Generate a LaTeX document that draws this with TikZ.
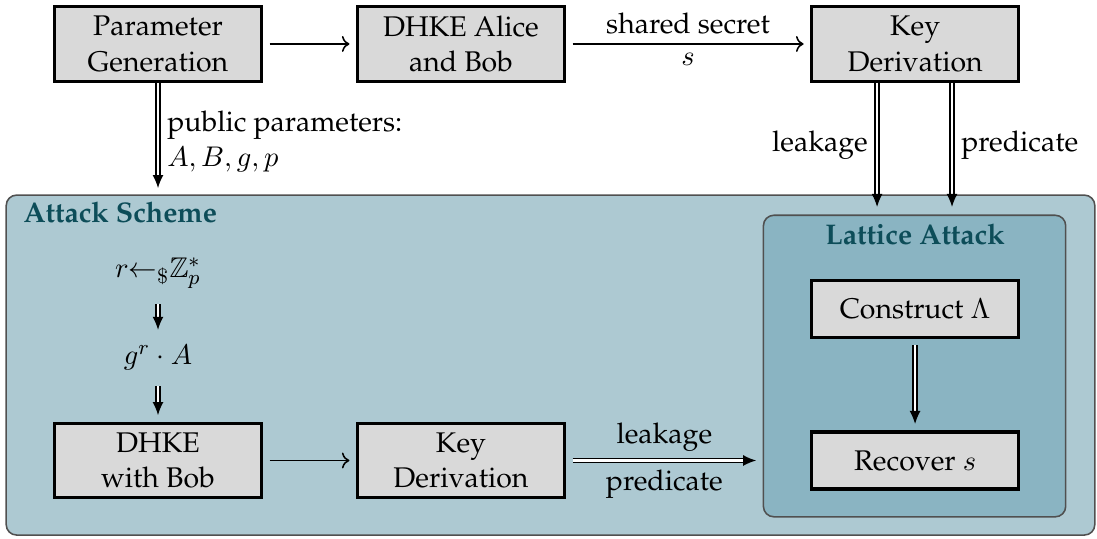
\documentclass[tikz,border=0pt]{standalone}
\usepackage[T1]{fontenc}
\usepackage{palatino}
\usepackage{amsmath}
\usepackage{amssymb}
\usetikzlibrary{arrows.meta}
\definecolor{schemeblue}{RGB}{173,201,210}
\definecolor{latticeblue}{RGB}{138,180,194}
\definecolor{titleteal}{RGB}{13,77,89}
\definecolor{frameline}{RGB}{80,80,80}

\begin{document}
\begin{tikzpicture}[
    font=\fontsize{10.95}{13.6}\selectfont,
    stepbox/.style={draw, line width=1.2pt, fill=black!15, align=center, minimum width=2.8cm, minimum height=1.01cm},
    flow/.style={->, line width=0.6pt, shorten <=2.5pt, shorten >=2.5pt},
    dflow/.style={double, double distance=1pt, line width=0.5pt, -{Latex[length=5pt,width=4.2pt]}, shorten <=2.5pt, shorten >=2.5pt},
    framebox/.style={draw=frameline, line width=0.6pt, rounded corners=4pt}
  ]
  \useasboundingbox (0,0) rectangle (14.844,-7.28);
  % attack scheme frames
  \node[framebox, fill=schemeblue, minimum width=14.73cm, minimum height=4.6cm] (scheme) at (7.449,-4.94) {};
  \node[framebox, fill=latticeblue, minimum width=4.09cm, minimum height=4.08cm] (lattice) at (12.375,-4.953) {};
  \node[anchor=west, inner sep=0pt, font=\fontsize{10.95}{13.6}\selectfont\bfseries, text=titleteal] (schemetitle) at (0.311,-2.869) {Attack Scheme};
  \node[inner sep=0pt, font=\fontsize{10.95}{13.6}\selectfont\bfseries, text=titleteal] (latticetitle) at (12.382,-3.17) {Lattice Attack};

  % top row
  \node[stepbox] (pargen) at (2.138,-0.595) {Parameter\\Generation};
  \node[stepbox] (dhkeab) at (6.238,-0.595) {DHKE Alice\\and Bob};
  \node[stepbox] (keytop) at (12.382,-0.595) {Key\\Derivation};
  \coordinate (ppend) at (2.138,-2.545);
  \coordinate (leakend) at (11.868,-2.80);
  \coordinate (predend) at (12.882,-2.80);

  % inside the scheme
  \node (rnd) at (2.138,-3.694) {$r{\leftarrow}_{\$}\mathbb{Z}_p^*$};
  \node (gra) at (2.138,-4.844) {$g^r\cdot A$};
  \node[stepbox] (dhkebob) at (2.138,-6.231) {DHKE\\with Bob};
  \node[stepbox] (keybot) at (6.238,-6.231) {Key\\Derivation};
  \node[stepbox, minimum height=0.77cm] (construct) at (12.382,-4.181) {Construct $\Lambda$};
  \node[stepbox, minimum height=0.77cm] (recover) at (12.382,-6.231) {Recover $s$};

  % connectors
  \draw[flow] (pargen) -- (dhkeab);
  \draw[flow] (dhkeab) -- node[above] {shared secret} node[below] {$s$} (keytop);
  \draw[dflow, shorten <=0pt, shorten >=0pt] (pargen) -- node[right, pos=0.56, align=left] {public parameters:\\$A, B, g, p$} (ppend);
  \draw[dflow, shorten <=0pt, shorten >=0pt] ([xshift=-0.514cm]keytop.south) -- node[left] {leakage} (leakend);
  \draw[dflow, shorten <=0pt, shorten >=0pt] ([xshift=0.5cm]keytop.south) -- node[right] {predicate} (predend);
  \draw[dflow] (rnd) -- (gra);
  \draw[dflow] (gra) -- (dhkebob);
  \draw[flow] (dhkebob) -- (keybot);
  \draw[dflow] (keybot) -- node[above] {leakage} node[below] {predicate} (keybot -| lattice.west);
  \draw[dflow] (construct) -- (recover);
\end{tikzpicture}
\end{document}
